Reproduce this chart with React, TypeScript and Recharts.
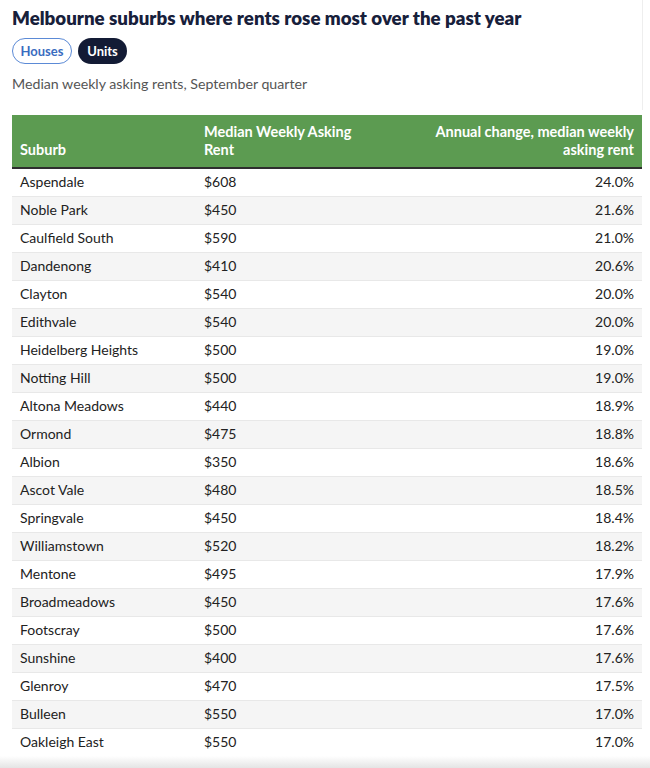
import React from 'react';
import { BarChart, Bar, XAxis, YAxis, LabelList } from 'recharts';

const title = 'Melbourne suburbs where rents rose most over the past year';
const subtitle = 'Median weekly asking rents, September quarter';
const tabs = ['Houses', 'Units'];
const columnHeaders = ['Suburb', 'Median Weekly Asking Rent', 'Annual change, median weekly asking rent'];

const suburbs = [
  'Aspendale', 'Noble Park', 'Caulfield South', 'Dandenong', 'Clayton', 'Edithvale',
  'Heidelberg Heights', 'Notting Hill', 'Altona Meadows', 'Ormond', 'Albion', 'Ascot Vale',
  'Springvale', 'Williamstown', 'Mentone', 'Broadmeadows', 'Footscray', 'Sunshine',
  'Glenroy', 'Bulleen', 'Oakleigh East',
];
const rents = [608, 450, 590, 410, 540, 540, 500, 500, 440, 475, 350, 480, 450, 520, 495, 450, 500, 400, 470, 550, 550];
const changes = [24.0, 21.6, 21.0, 20.6, 20.0, 20.0, 19.0, 19.0, 18.9, 18.8, 18.6, 18.5, 18.4, 18.2, 17.9, 17.6, 17.6, 17.6, 17.5, 17.0, 17.0];

const data = suburbs.map((s, i) => ({ suburb: s, rent: rents[i], change: changes[i] }));

const FONT = 'Lato, "Open Sans", sans-serif';
const TABLE_W = 630;
const ROW_H = 28;
const TEXT_COLOR = '#222';

const RowBackground = (props: any) => {
  const { x, y, width, height, index } = props;
  return (
    <g>
      <rect x={x} y={y} width={width} height={height} fill={index % 2 === 1 ? '#f5f5f5' : '#ffffff'} />
      {index < data.length - 1 && (
        <line x1={x} x2={x + width} y1={y + height - 0.5} y2={y + height - 0.5} stroke="#e8e8e8" strokeWidth={1} />
      )}
    </g>
  );
};

const makeLabel = (col: 'suburb' | 'rent' | 'change') => (props: any) => {
  const { y, height, value } = props;
  const cy = Number(y) + Number(height) / 2 - 1;
  let text = '';
  let tx = 8;
  let anchor: 'start' | 'end' = 'start';
  if (col === 'suburb') {
    text = String(value);
    tx = 8;
  } else if (col === 'rent') {
    text = '$' + value;
    tx = 192;
  } else {
    text = Number(value).toFixed(1) + '%';
    tx = TABLE_W - 8;
    anchor = 'end';
  }
  return (
    <text x={tx} y={cy} dy="0.35em" textAnchor={anchor} fontFamily={FONT} fontSize={14} fill={TEXT_COLOR}>
      {text}
    </text>
  );
};

export default function App() {
  return (
    <div style={{ position: 'absolute', left: 0, top: 0, width: 650, height: 768, overflow: 'hidden', background: '#fff', fontFamily: FONT }}>
      <div style={{ position: 'absolute', left: 642, top: 0, width: 1, height: 110, background: '#eeeeee' }} />
      <div style={{ position: 'absolute', left: 12, top: 6, fontSize: 18.7, lineHeight: '24px', fontWeight: 800, color: '#17203b', whiteSpace: 'nowrap' }}>
        {title}
      </div>
      <div style={{ position: 'absolute', left: 12, top: 38, width: 60, height: 26, boxSizing: 'border-box', border: '1.5px solid #5b8ad6', borderRadius: 13, color: '#3a6cc0', fontSize: 13, fontWeight: 700, display: 'flex', alignItems: 'center', justifyContent: 'center' }}>
        {tabs[0]}
      </div>
      <div style={{ position: 'absolute', left: 78, top: 38, width: 49, height: 26, boxSizing: 'border-box', borderRadius: 13, background: '#131b35', color: '#fff', fontSize: 13, fontWeight: 700, display: 'flex', alignItems: 'center', justifyContent: 'center' }}>
        {tabs[1]}
      </div>
      <div style={{ position: 'absolute', left: 12, top: 75, fontSize: 14.2, lineHeight: '18px', color: '#555', whiteSpace: 'nowrap' }}>
        {subtitle}
      </div>
      <div style={{ position: 'absolute', left: 12, top: 115, width: TABLE_W, height: 52, background: '#5c9b51', borderBottom: '2px solid #2e2e2e', color: '#fff', fontWeight: 700, fontSize: 14.5, lineHeight: '18px' }}>
        <div style={{ position: 'absolute', left: 8, bottom: 8 }}>{columnHeaders[0]}</div>
        <div style={{ position: 'absolute', left: 192, bottom: 8, width: 160 }}>{columnHeaders[1]}</div>
        <div style={{ position: 'absolute', right: 8, bottom: 8, width: 220, textAlign: 'right' }}>{columnHeaders[2]}</div>
      </div>
      <div style={{ position: 'absolute', left: 12, top: 169 }}>
        <BarChart
          width={TABLE_W}
          height={ROW_H * data.length}
          data={data}
          layout="vertical"
          margin={{ top: 0, right: 0, bottom: 0, left: 0 }}
          barCategoryGap={0}
        >
          <XAxis type="number" domain={[0, 30]} hide />
          <YAxis type="category" dataKey="suburb" hide />
          <Bar dataKey="change" fill="transparent" isAnimationActive={false} background={<RowBackground />}>
            <LabelList dataKey="suburb" content={makeLabel('suburb')} />
            <LabelList dataKey="rent" content={makeLabel('rent')} />
            <LabelList dataKey="change" content={makeLabel('change')} />
          </Bar>
        </BarChart>
      </div>
      <div style={{ position: 'absolute', left: 0, top: 756, width: 650, height: 12, background: 'linear-gradient(#ffffff00, #e4e4e4)' }} />
    </div>
  );
}
